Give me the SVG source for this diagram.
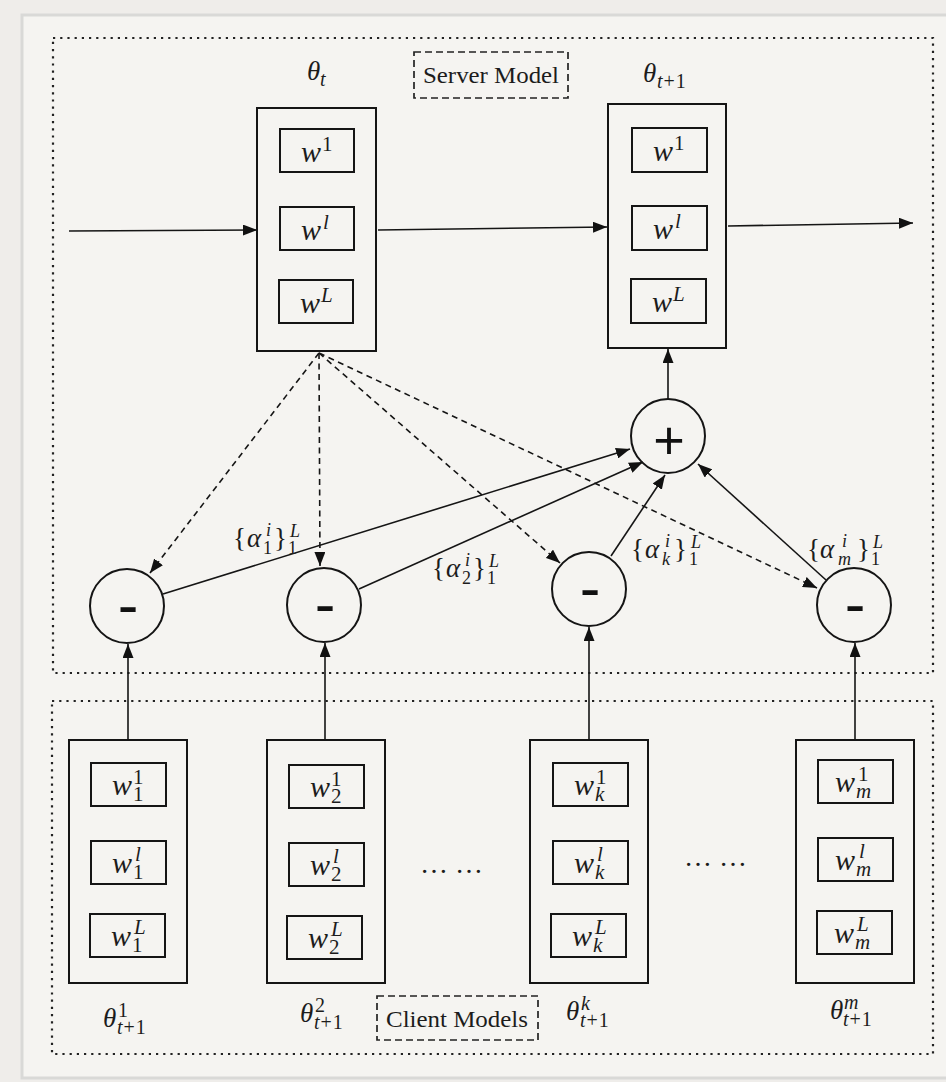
<svg xmlns="http://www.w3.org/2000/svg" width="946" height="1082" viewBox="0 0 946 1082">
  <style>
    .frame { fill: #f5f4f1; stroke: #d9d9d7; stroke-width: 3; }
    .region { fill: none; stroke: #222; stroke-width: 2.2; stroke-dasharray: 2.2 5; }
    .tag { fill: none; stroke: #222; stroke-width: 1.7; stroke-dasharray: 7 4; }
    .outer { fill: none; stroke: #151515; stroke-width: 2; }
    .inner { fill: none; stroke: #151515; stroke-width: 2; }
    .op { fill: none; stroke: #151515; stroke-width: 2; }
    .edge { fill: none; stroke: #151515; stroke-width: 1.6; marker-end: url(#ah); }
    .dash { fill: none; stroke: #151515; stroke-width: 1.6; stroke-dasharray: 6 4.5; marker-end: url(#ah); }
    .mi { font-family: "Liberation Serif", "DejaVu Serif", serif; font-style: italic; fill: #1c1c1c; }
    .rm { font-family: "Liberation Serif", "DejaVu Serif", serif; font-style: normal; fill: #1c1c1c; }
    .w { font-size: 30px; }
    .s { font-size: 21px; }
    .th { font-size: 27px; }
    .ts { font-size: 20px; }
    .al { font-size: 27px; }
    .as { font-size: 18px; }
    .sign { font-family: "Liberation Sans", Arial, sans-serif; fill: #111; text-anchor: middle; }
  </style>
  <defs>
    <marker id="ah" markerUnits="userSpaceOnUse" markerWidth="15" markerHeight="11" refX="14" refY="5.5" orient="auto">
      <path d="M0,0 L14,5.5 L0,11 Z" fill="#111"/>
    </marker>
  </defs>

  <!-- page -->
  <rect x="0" y="0" width="946" height="1082" fill="#efedea"/>
  <rect class="frame" x="22" y="15" width="930" height="1063"/>

  <!-- server and client regions -->
  <g id="server-region">
    <rect class="region" x="53" y="38" width="880" height="635"/>
    <rect class="tag" x="414" y="52" width="154" height="46"/>
    <text class="rm" x="423" y="83" font-size="24" textLength="136" lengthAdjust="spacingAndGlyphs">Server Model</text>
  </g>
  <g id="client-region">
    <rect class="region" x="52" y="701" width="881" height="353"/>
    <rect class="tag" x="377" y="996" width="161" height="44"/>
    <text class="rm" x="386" y="1027" font-size="24" textLength="142" lengthAdjust="spacingAndGlyphs">Client Models</text>
  </g>

  <!-- connectors -->
  <g id="connectors">
    <line class="edge" x1="69" y1="231" x2="257" y2="230"/>
    <line class="edge" x1="378" y1="230" x2="607" y2="227"/>
    <line class="edge" x1="728" y1="226" x2="913" y2="223"/>

    <line class="dash" x1="319" y1="353" x2="150" y2="573"/>
    <line class="dash" x1="319" y1="353" x2="320" y2="566"/>
    <line class="dash" x1="319" y1="353" x2="560" y2="563"/>
    <line class="dash" x1="319" y1="353" x2="817" y2="588"/>

    <line class="edge" x1="163" y1="594" x2="630" y2="449"/>
    <line class="edge" x1="359" y1="589" x2="643" y2="462"/>
    <line class="edge" x1="611" y1="556" x2="665" y2="475"/>
    <line class="edge" x1="826" y1="580" x2="698" y2="464"/>

    <line class="edge" x1="668" y1="399" x2="668" y2="349"/>

    <line class="edge" x1="128" y1="740" x2="128" y2="644"/>
    <line class="edge" x1="325" y1="740" x2="325" y2="643"/>
    <line class="edge" x1="589" y1="740" x2="589" y2="627"/>
    <line class="edge" x1="855" y1="740" x2="855" y2="643"/>
  </g>

  <!-- server model at round t -->
  <g id="theta-t">
    <text class="mi th"><tspan x="307" y="80">θ</tspan><tspan class="ts" x="320" y="86">t</tspan></text>
    <rect class="outer" x="257" y="108" width="119" height="243"/>
    <rect class="inner" x="280" y="129" width="74" height="43"/>
    <rect class="inner" x="280" y="207" width="74" height="43"/>
    <rect class="inner" x="279" y="280" width="74" height="43"/>
    <text class="mi w"><tspan x="301" y="162">w</tspan><tspan class="rm s" x="322" y="151">1</tspan></text>
    <text class="mi w"><tspan x="301" y="240">w</tspan><tspan class="s" x="323" y="229">l</tspan></text>
    <text class="mi w"><tspan x="300" y="313">w</tspan><tspan class="s" x="321" y="302">L</tspan></text>
  </g>

  <!-- server model at round t+1 -->
  <g id="theta-t1">
    <text class="mi th"><tspan x="643" y="82">θ</tspan><tspan class="ts" x="657" y="88">t</tspan><tspan class="rm ts" dx="1">+</tspan><tspan class="rm ts" dx="1">1</tspan></text>
    <rect class="outer" x="608" y="104" width="118" height="244"/>
    <rect class="inner" x="632" y="128" width="75" height="44"/>
    <rect class="inner" x="632" y="206" width="75" height="44"/>
    <rect class="inner" x="631" y="279" width="75" height="44"/>
    <text class="mi w"><tspan x="653" y="161">w</tspan><tspan class="rm s" x="674" y="150">1</tspan></text>
    <text class="mi w"><tspan x="653" y="239">w</tspan><tspan class="s" x="675" y="228">l</tspan></text>
    <text class="mi w"><tspan x="652" y="312">w</tspan><tspan class="s" x="673" y="301">L</tspan></text>
  </g>

  <!-- aggregation -->
  <g id="plus">
    <circle class="op" cx="668" cy="436" r="37"/>
    <text class="sign" x="669" y="459" font-size="54">+</text>
  </g>

  <!-- difference nodes -->
  <g id="minus-1">
    <circle class="op" cx="127" cy="606" r="37"/>
    <text class="sign" x="128" y="626" font-size="62">-</text>
  </g>
  <g id="minus-2">
    <circle class="op" cx="324" cy="605" r="37"/>
    <text class="sign" x="325" y="625" font-size="62">-</text>
  </g>
  <g id="minus-k">
    <circle class="op" cx="589" cy="589" r="37"/>
    <text class="sign" x="590" y="609" font-size="62">-</text>
  </g>
  <g id="minus-m">
    <circle class="op" cx="854" cy="605" r="37"/>
    <text class="sign" x="855" y="625" font-size="62">-</text>
  </g>

  <!-- attention weight labels -->
  <g id="alpha-labels">
    <text class="rm al"><tspan x="233" y="547">{</tspan><tspan class="mi" x="247" y="547">α</tspan><tspan class="mi as" x="266" y="536">i</tspan><tspan class="as" x="263" y="554">1</tspan><tspan x="274" y="547">}</tspan><tspan class="mi as" x="290" y="537">L</tspan><tspan class="as" x="288" y="554">1</tspan></text>
    <text class="rm al"><tspan x="432" y="577">{</tspan><tspan class="mi" x="446" y="577">α</tspan><tspan class="mi as" x="465" y="566">i</tspan><tspan class="as" x="462" y="584">2</tspan><tspan x="473" y="577">}</tspan><tspan class="mi as" x="489" y="567">L</tspan><tspan class="as" x="487" y="584">1</tspan></text>
    <text class="rm al"><tspan x="631" y="558">{</tspan><tspan class="mi" x="645" y="558">α</tspan><tspan class="mi as" x="665" y="547">i</tspan><tspan class="mi as" x="662" y="565">k</tspan><tspan x="674" y="558">}</tspan><tspan class="mi as" x="691" y="548">L</tspan><tspan class="as" x="689" y="565">1</tspan></text>
    <text class="rm al"><tspan x="807" y="558">{</tspan><tspan class="mi" x="820" y="558">α</tspan><tspan class="mi as" x="842" y="547">i</tspan><tspan class="mi as" x="838" y="565">m</tspan><tspan x="857" y="558">}</tspan><tspan class="mi as" x="873" y="548">L</tspan><tspan class="as" x="871" y="565">1</tspan></text>
  </g>

  <!-- client models -->
  <g id="client-1">
    <rect class="outer" x="69" y="740" width="118" height="243"/>
    <rect class="inner" x="91" y="763" width="75" height="43"/>
    <rect class="inner" x="91" y="841" width="75" height="43"/>
    <rect class="inner" x="90" y="914" width="75" height="43"/>
    <text class="mi w"><tspan x="112" y="795">w</tspan><tspan class="rm s" x="133" y="784">1</tspan><tspan class="rm s" x="133" y="801">1</tspan></text>
    <text class="mi w"><tspan x="112" y="873">w</tspan><tspan class="s" x="135" y="861">l</tspan><tspan class="rm s" x="133" y="879">1</tspan></text>
    <text class="mi w"><tspan x="111" y="946">w</tspan><tspan class="s" x="134" y="934">L</tspan><tspan class="rm s" x="132" y="952">1</tspan></text>
    <text class="mi th"><tspan x="103" y="1027">θ</tspan><tspan class="rm ts" x="118" y="1017">1</tspan><tspan class="ts" x="117" y="1034">t</tspan><tspan class="rm ts" dx="1">+</tspan><tspan class="rm ts" dx="1">1</tspan></text>
  </g>
  <g id="client-2">
    <rect class="outer" x="267" y="740" width="118" height="243"/>
    <rect class="inner" x="289" y="765" width="75" height="43"/>
    <rect class="inner" x="289" y="843" width="75" height="43"/>
    <rect class="inner" x="287" y="916" width="75" height="43"/>
    <text class="mi w"><tspan x="310" y="797">w</tspan><tspan class="rm s" x="331" y="786">1</tspan><tspan class="rm s" x="331" y="803">2</tspan></text>
    <text class="mi w"><tspan x="310" y="875">w</tspan><tspan class="s" x="333" y="863">l</tspan><tspan class="rm s" x="331" y="881">2</tspan></text>
    <text class="mi w"><tspan x="308" y="948">w</tspan><tspan class="s" x="331" y="936">L</tspan><tspan class="rm s" x="329" y="954">2</tspan></text>
    <text class="mi th"><tspan x="300" y="1022">θ</tspan><tspan class="rm ts" x="315" y="1012">2</tspan><tspan class="ts" x="314" y="1029">t</tspan><tspan class="rm ts" dx="1">+</tspan><tspan class="rm ts" dx="1">1</tspan></text>
  </g>
  <text class="rm" x="420" y="873" font-size="28">… …</text>
  <g id="client-k">
    <rect class="outer" x="530" y="740" width="118" height="243"/>
    <rect class="inner" x="553" y="763" width="75" height="43"/>
    <rect class="inner" x="553" y="841" width="75" height="43"/>
    <rect class="inner" x="551" y="914" width="75" height="43"/>
    <text class="mi w"><tspan x="574" y="795">w</tspan><tspan class="rm s" x="596" y="784">1</tspan><tspan class="s" x="595" y="801">k</tspan></text>
    <text class="mi w"><tspan x="574" y="873">w</tspan><tspan class="s" x="597" y="861">l</tspan><tspan class="s" x="595" y="879">k</tspan></text>
    <text class="mi w"><tspan x="572" y="946">w</tspan><tspan class="s" x="595" y="934">L</tspan><tspan class="s" x="593" y="952">k</tspan></text>
    <text class="mi th"><tspan x="566" y="1020">θ</tspan><tspan class="ts" x="581" y="1010">k</tspan><tspan class="ts" x="580" y="1027">t</tspan><tspan class="rm ts" dx="1">+</tspan><tspan class="rm ts" dx="1">1</tspan></text>
  </g>
  <text class="rm" x="684" y="866" font-size="28">… …</text>
  <g id="client-m">
    <rect class="outer" x="796" y="740" width="118" height="243"/>
    <rect class="inner" x="818" y="760" width="75" height="43"/>
    <rect class="inner" x="818" y="838" width="75" height="43"/>
    <rect class="inner" x="817" y="911" width="75" height="43"/>
    <text class="mi w"><tspan x="835" y="792">w</tspan><tspan class="rm s" x="858" y="781">1</tspan><tspan class="s" x="856" y="798">m</tspan></text>
    <text class="mi w"><tspan x="835" y="870">w</tspan><tspan class="s" x="859" y="858">l</tspan><tspan class="s" x="856" y="876">m</tspan></text>
    <text class="mi w"><tspan x="834" y="943">w</tspan><tspan class="s" x="857" y="931">L</tspan><tspan class="s" x="855" y="949">m</tspan></text>
    <text class="mi th"><tspan x="830" y="1019">θ</tspan><tspan class="ts" x="844" y="1009">m</tspan><tspan class="ts" x="843" y="1026">t</tspan><tspan class="rm ts" dx="1">+</tspan><tspan class="rm ts" dx="1">1</tspan></text>
  </g>
</svg>
